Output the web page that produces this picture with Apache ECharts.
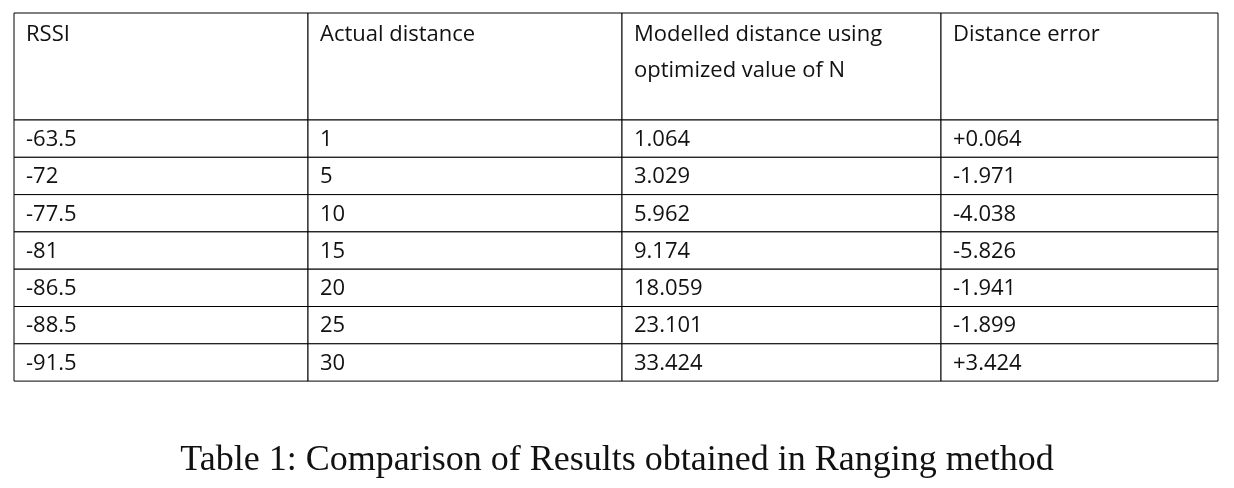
<!DOCTYPE html>
<html>
<head>
<meta charset="utf-8"/>
<script src="https://cdn.jsdelivr.net/npm/echarts@6/dist/echarts.min.js"></script>
<style>html,body{margin:0;background:#fff}#main{width:1234px;height:488px}</style>
</head>
<body>
<div id="main"></div>
<script>
var headers = ['RSSI', 'Actual distance', 'Modelled distance using\noptimized value of N', 'Distance error'];
var rssi = ['-63.5', '-72', '-77.5', '-81', '-86.5', '-88.5', '-91.5'];
var actual = ['1', '5', '10', '15', '20', '25', '30'];
var modelled = ['1.064', '3.029', '5.962', '9.174', '18.059', '23.101', '33.424'];
var error = ['+0.064', '-1.971', '-4.038', '-5.826', '-1.941', '-1.899', '+3.424'];

// layout (px inside the grid)
var colEdges = [0, 294, 608, 927, 1204];
var rowEdges = [0, 107];
for (var i = 0; i < rssi.length; i++) rowEdges.push(107 + (i + 1) * 37.3);

var cells = [];
headers.forEach(function (h, c) { cells.push([c, 0, h]); });
[rssi, actual, modelled, error].forEach(function (col, c) {
    col.forEach(function (v, r) { cells.push([c, r + 1, v]); });
});

var myChart = echarts.init(document.getElementById('main'));
var option = {
    animation: false,
    title: {
        text: 'Table 1: Comparison of Results obtained in Ranging method',
        left: 'center', top: 438,
        textStyle: { fontFamily: 'Liberation Serif', fontWeight: 'normal', fontSize: 36, color: '#111' }
    },
    grid: { left: 14, top: 13, width: 1204, height: rowEdges[rowEdges.length - 1] },
    xAxis: { type: 'value', min: 0, max: 1204, show: false },
    yAxis: { type: 'value', min: 0, max: rowEdges[rowEdges.length - 1], inverse: true, show: false },
    series: [{
        type: 'custom',
        data: cells,
        renderItem: function (params, api) {
            var c = api.value(0), r = api.value(1);
            var p0 = api.coord([colEdges[c], rowEdges[r]]);
            var p1 = api.coord([colEdges[c + 1], rowEdges[r + 1]]);
            var txt = cells[params.dataIndex][2];
            var header = r === 0;
            return {
                type: 'group',
                children: [{
                    type: 'rect',
                    shape: { x: p0[0], y: p0[1], width: p1[0] - p0[0], height: p1[1] - p0[1] },
                    style: { fill: '#fff', stroke: '#000', lineWidth: 1 }
                }, {
                    type: 'text',
                    style: {
                        text: txt, x: p0[0] + 12,
                        y: header ? p0[1] + 4 : (p0[1] + p1[1]) / 2 + 1,
                        verticalAlign: header ? 'top' : 'middle',
                        font: '22px "Open Sans"', fill: '#111', lineHeight: 36
                    }
                }]
            };
        }
    }]
};
myChart.setOption(option);
</script>
</body>
</html>
